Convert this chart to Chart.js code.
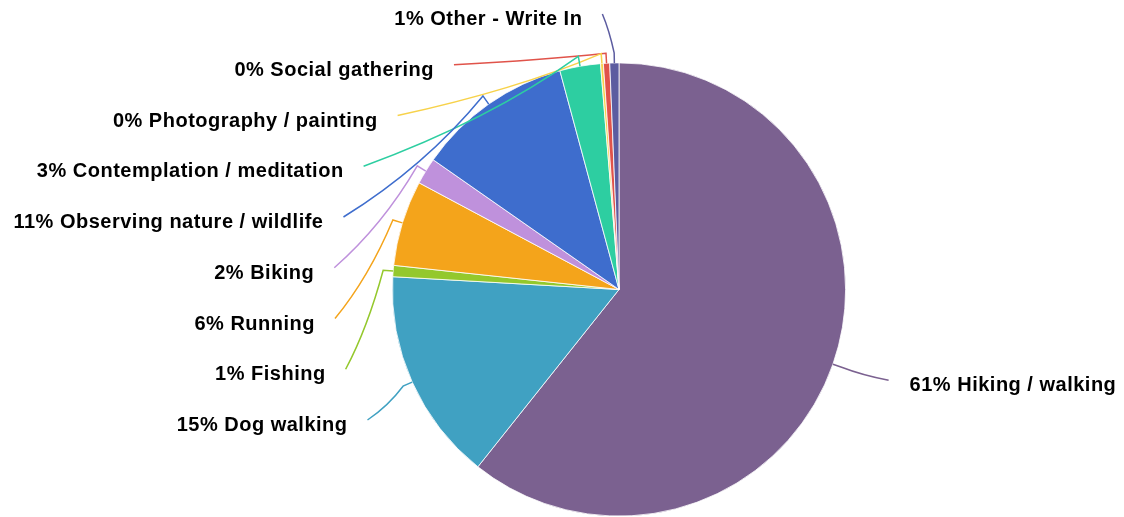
<!DOCTYPE html>
<html>
<head>
<meta charset="utf-8">
<script src="https://cdn.jsdelivr.net/npm/chart.js@4.4.1/dist/chart.umd.min.js"></script>
<style>
  html, body { margin: 0; padding: 0; background: #fff; }
  #wrap { width: 1124px; height: 517px; }
</style>
</head>
<body>
<div id="wrap"><canvas id="activity-chart" width="1124" height="517"></canvas></div>
<script>
// activities, clockwise from 12 o'clock
const activities = [
    'Hiking / walking',
    'Dog walking',
    'Fishing',
    'Running',
    'Biking',
    'Observing nature / wildlife',
    'Contemplation / meditation',
    'Photography / painting',
    'Social gathering',
    'Other - Write In'
];
const shares = [60.7, 15.2, 0.8, 6.1, 1.9, 11.1, 2.9, 0.2, 0.45, 0.65];
const sliceColors = [
    '#7b6190', '#40a1c2', '#94c82c', '#f4a41b', '#bf91dc',
    '#3e6dcd', '#2dcea1', '#f7d24a', '#e0534a', '#5c5ca0'
];

const labelFont = 'bold 20px "Liberation Sans", Arial, sans-serif';

function labelText(i) {
    const total = shares.reduce((a, b) => a + b, 0);
    return Math.round(shares[i] / total * 100) + '% ' + activities[i];
}

// labels outside the pie with curved leader lines
const outsideLabels = {
    id: 'outsideLabels',
    afterDatasetsDraw(chart) {
        const ctx = chart.ctx;
        const arcs = chart.getDatasetMeta(0).data;
        const left = [], right = [];

        arcs.forEach((arc, i) => {
            const p = arc.getProps(['x', 'y', 'startAngle', 'endAngle', 'outerRadius'], true);
            const mid = (p.startAngle + p.endAngle) / 2;
            const item = { i: i, p: p, mid: mid };
            (Math.cos(mid) < 0 ? left : right).push(item);
        });

        // left side: evenly spaced rows, top to bottom
        left.sort((a, b) => b.mid - a.mid);
        const rowTop = chart.chartArea.top - 48;
        const rowGap = 50.75;

        const placed = [];
        left.forEach((item, k) => {
            const p = item.p;
            const ax = p.outerRadius + 59, by = p.outerRadius + 48.8;
            const y = rowTop + k * rowGap;
            const t = Math.max(0, 1 - Math.pow((y - p.y) / by, 2));
            const edgeX = p.x + p.outerRadius * Math.cos(item.mid);
            placed.push({ item: item, x: Math.min(p.x - ax * Math.sqrt(t), edgeX - 12), y: y, side: -1 });
        });
        right.forEach(item => {
            const p = item.p;
            const ax = p.outerRadius + 59, by = p.outerRadius + 48.8;
            placed.push({
                item: item,
                x: p.x + ax * Math.cos(item.mid),
                y: p.y + by * Math.sin(item.mid),
                side: 1
            });
        });

        ctx.save();
        placed.forEach(l => {
            const p = l.item.p, mid = l.item.mid;
            const color = sliceColors[l.item.i];
            const A = { x: p.x + p.outerRadius * Math.cos(mid), y: p.y + p.outerRadius * Math.sin(mid) };
            const B = { x: p.x + (p.outerRadius + 10) * Math.cos(mid), y: p.y + (p.outerRadius + 10) * Math.sin(mid) };
            const dx = l.x - B.x, dy = l.y - B.y;

            ctx.beginPath();
            ctx.moveTo(A.x, A.y);
            ctx.lineTo(B.x, B.y);
            ctx.bezierCurveTo(
                B.x + dx * 0.3, B.y + dy * 0.42,
                l.x - dx * 0.35, l.y - dy * 0.25,
                l.x, l.y
            );
            ctx.strokeStyle = color;
            ctx.lineWidth = 1.5;
            ctx.stroke();

            ctx.font = labelFont;
            ctx.fillStyle = '#000';
            ctx.textBaseline = 'alphabetic';
            if ('letterSpacing' in ctx) ctx.letterSpacing = '0.5px';
            if (l.side < 0) {
                ctx.textAlign = 'right';
                ctx.fillText(labelText(l.item.i), l.x - 20, l.y + 11);
            } else {
                ctx.textAlign = 'left';
                ctx.fillText(labelText(l.item.i), l.x + 21, l.y + 11);
            }
        });
        ctx.restore();
    }
};

const ctx = document.getElementById('activity-chart').getContext('2d');
new Chart(ctx, {
    type: 'pie',
    data: {
        labels: activities,
        datasets: [{
            data: shares,
            backgroundColor: sliceColors,
            borderColor: '#ffffff',
            borderWidth: 0.8
        }]
    },
    options: {
        responsive: false,
        animation: false,
        devicePixelRatio: 1,
        layout: {
            padding: { left: 392, right: 278, top: 62, bottom: 0 }
        },
        plugins: {
            legend: { display: false },
            tooltip: { enabled: false }
        }
    },
    plugins: [outsideLabels]
});
</script>
</body>
</html>
